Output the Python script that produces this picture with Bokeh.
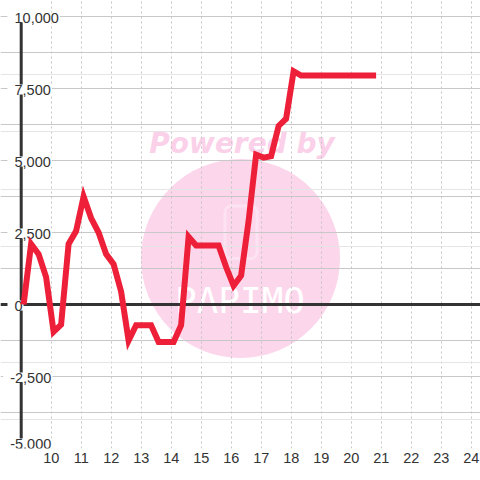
from bokeh.plotting import figure
from bokeh.models import Range1d, FixedTicker, Grid, ColumnDataSource, BoxAnnotation
from bokeh.core.properties import value
from bokeh.embed import file_html
from bokeh.resources import INLINE

# ---------------- data ----------------
x_values = [9.08, 9.33, 9.58, 9.83, 10.08, 10.33, 10.58, 10.83, 11.08, 11.33,
            11.58, 11.83, 12.08, 12.33, 12.58, 12.83, 13.08, 13.33, 13.58, 13.83,
            14.08, 14.33, 14.58, 14.83, 15.08, 15.33, 15.58, 15.83, 16.08, 16.33,
            16.58, 16.83, 17.08, 17.33, 17.58, 17.83, 18.08, 18.33, 18.58, 18.83,
            19.08, 19.33, 19.58, 19.83, 20.08, 20.33, 20.58, 20.83]
y_values = [0, 2100, 1750, 950, -950, -700, 2100, 2550, 3750, 3000,
            2500, 1750, 1400, 450, -1250, -720, -720, -720, -1300, -1300,
            -1300, -720, 2350, 2050, 2050, 2050, 2050, 1300, 650, 1000,
            2900, 5200, 5100, 5150, 6200, 6450, 8100, 7950, 7950, 7950,
            7950, 7950, 7950, 7950, 7950, 7950, 7950, 7950]

x_ticks = [10, 11, 12, 13, 14, 15, 16, 17, 18, 19, 20, 21, 22, 23, 24]
x_tick_labels = [str(t) for t in x_ticks]
y_ticks = [10000, 7500, 5000, 2500, 0, -2500, -5000]
y_tick_labels = ["10,000", "7,500", "5,000", "2,500", "0", "-2,500", "-5,000"]
y_grid_values = [-5000, -3750, -2500, -1250, 0, 1250, 2500, 3750, 5000,
                 6250, 7500, 8750, 10000]

# ---------------- layout ----------------
W, H = 480, 480
FRAME_H = 448
x_start, x_end = 10 - 50.7 / 30, 10 + (480 - 50.7) / 30
y_start, y_end = -5000, -5000 + FRAME_H * 2500 / 72


def dx(px):
    return x_start + px * (x_end - x_start) / W


def dy(py):
    return y_end - py * (y_end - y_start) / FRAME_H


p = figure(width=W, height=H, x_range=Range1d(x_start, x_end),
           y_range=Range1d(y_start, y_end), output_backend="svg",
           toolbar_location=None, y_axis_location=None,
           min_border_left=0, min_border_right=0, min_border_top=0,
           min_border_bottom=H - FRAME_H, outline_line_color=None,
           background_fill_color="white", border_fill_color="white")

# ---------------- watermark ----------------
wm = p.scatter(x=[dx(240)], y=[dy(258)], size=199, marker="circle",
               fill_color="#fcd6eb", line_color=None)
wm.level = "image"
pw = p.text(x=[dx(241.5)], y=[dy(143)], text=["Powered by"], text_align="center",
            text_baseline="alphabetic", text_font=value("DejaVu Sans"),
            text_font_style="bold italic", text_font_size="28px",
            text_color="#fbd1e9")
pw.level = "image"
box = BoxAnnotation(left=dx(224.5), right=dx(256.5), top=dy(205.5), bottom=dy(258),
                    fill_color=None, line_color="white", line_width=3,
                    border_radius=6, level="image")
p.add_layout(box)
lg = p.text(x=[dx(239.5)], y=[dy(300)], text=["PAPIMO"], text_align="center",
            text_baseline="alphabetic", text_font=value("DejaVu Sans Mono"),
            text_font_size="36px", text_color="white")
lg.level = "image"

# ---------------- grids ----------------
p.xgrid.ticker = FixedTicker(ticks=x_ticks)
p.xgrid.grid_line_color = "#c4c4c4"
p.xgrid.grid_line_dash = "2 3"
p.xgrid.grid_line_width = 1
ygrid = Grid(dimension=1, ticker=FixedTicker(ticks=y_grid_values),
             grid_line_color="#c8c8c8", grid_line_width=1)
p.add_layout(ygrid)

# ---------------- x axis ----------------
ax = p.xaxis[0]
ax.ticker = FixedTicker(ticks=x_ticks)
ax.major_label_overrides = {t: s for t, s in zip(x_ticks, x_tick_labels)}
ax.axis_line_color = None
ax.major_tick_line_color = None
ax.minor_tick_line_color = None
ax.major_tick_out = 0
ax.major_tick_in = 0
ax.major_label_standoff = 4
ax.major_label_text_font = "Liberation Sans"
ax.major_label_text_font_size = "14.5px"
ax.major_label_text_color = "#333333"

# ---------------- y axis line & zero line ----------------
p.segment(x0=[9], y0=[y_ticks[-1]], x1=[9], y1=[y_ticks[0]],
          line_color="#333333", line_width=3)
p.line(x=[x_start, x_end], y=[0, 0], line_color="#333333", line_width=3)

# ---------------- y tick labels ----------------
lab_x = dx(7)
src = ColumnDataSource(dict(
    x=[lab_x] * len(y_ticks), y=y_ticks, text=y_tick_labels,
    xo=[-4.3 if v < 0 else 0 for v in y_ticks],
    yo=[-5 if v == min(y_ticks) else 1 for v in y_ticks]))
p.text(x="x", y="y", text="text", x_offset="xo", y_offset="yo", source=src,
       text_align="left", text_baseline="middle",
       text_font=value("Liberation Sans"), text_font_size="14.5px",
       text_color="#333333", background_fill_color="white",
       padding=dict(left=7, right=1, top=0, bottom=0))

# ---------------- series ----------------
p.line(x=x_values, y=y_values, line_color="#ee1f38", line_width=6,
       line_join="miter")

open("out.html", "w").write(file_html(p, INLINE))
